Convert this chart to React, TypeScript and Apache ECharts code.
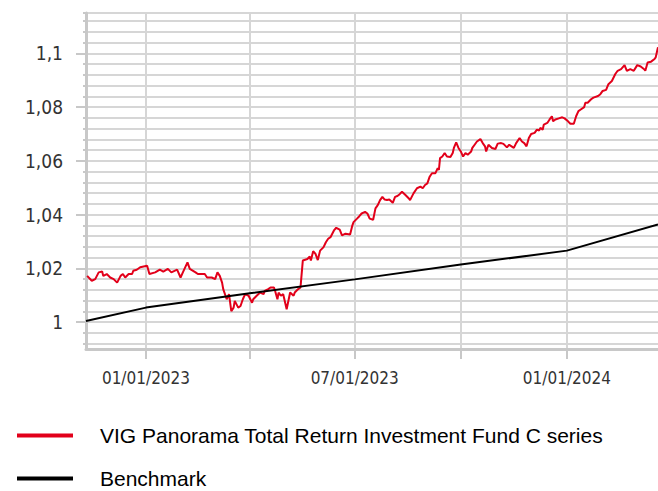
import React, { useEffect, useRef } from "react";
import * as echarts from "echarts";

// Fund series (VIG Panorama Total Return Investment Fund C series)
const fundDates = [
  "2022-11-11", "2022-11-15", "2022-11-18", "2022-11-21", "2022-11-24", "2022-11-25", "2022-11-28",
  "2022-12-01", "2022-12-04", "2022-12-07", "2022-12-10", "2022-12-12", "2022-12-14", "2022-12-17",
  "2022-12-20", "2022-12-21", "2022-12-24", "2022-12-27", "2022-12-30", "2023-01-02", "2023-01-04",
  "2023-01-09", "2023-01-13", "2023-01-16", "2023-01-20", "2023-01-23", "2023-01-28", "2023-01-31",
  "2023-02-02", "2023-02-06", "2023-02-08", "2023-02-13", "2023-02-15", "2023-02-17", "2023-02-21",
  "2023-02-23", "2023-02-27", "2023-03-02", "2023-03-04", "2023-03-06", "2023-03-08", "2023-03-09",
  "2023-03-12", "2023-03-14", "2023-03-16", "2023-03-18", "2023-03-19", "2023-03-22", "2023-03-24",
  "2023-03-26", "2023-03-28", "2023-03-31", "2023-04-03", "2023-04-04", "2023-04-07", "2023-04-10",
  "2023-04-13", "2023-04-14", "2023-04-17", "2023-04-19", "2023-04-22", "2023-04-23", "2023-04-25",
  "2023-04-26", "2023-04-28", "2023-04-30", "2023-05-03", "2023-05-06", "2023-05-09", "2023-05-10",
  "2023-05-13", "2023-05-15", "2023-05-17", "2023-05-21", "2023-05-23", "2023-05-24", "2023-05-26",
  "2023-05-28", "2023-05-30", "2023-06-01", "2023-06-04", "2023-06-06", "2023-06-08", "2023-06-10",
  "2023-06-13", "2023-06-15", "2023-06-18", "2023-06-20", "2023-06-23", "2023-06-27", "2023-06-29",
  "2023-06-30", "2023-07-03", "2023-07-05", "2023-07-07", "2023-07-10", "2023-07-12", "2023-07-14",
  "2023-07-17", "2023-07-19", "2023-07-21", "2023-07-23", "2023-07-25", "2023-07-27", "2023-07-29",
  "2023-07-31", "2023-08-03", "2023-08-05", "2023-08-07", "2023-08-09", "2023-08-11", "2023-08-14",
  "2023-08-17", "2023-08-18", "2023-08-21", "2023-08-24", "2023-08-27", "2023-08-29", "2023-08-31",
  "2023-09-02", "2023-09-04", "2023-09-06", "2023-09-09", "2023-09-11", "2023-09-12", "2023-09-13",
  "2023-09-15", "2023-09-17", "2023-09-19", "2023-09-22", "2023-09-24", "2023-09-25", "2023-09-27",
  "2023-09-29", "2023-10-01", "2023-10-03", "2023-10-05", "2023-10-07", "2023-10-10", "2023-10-11",
  "2023-10-13", "2023-10-15", "2023-10-18", "2023-10-20", "2023-10-22", "2023-10-23", "2023-10-25",
  "2023-10-28", "2023-10-31", "2023-11-02", "2023-11-05", "2023-11-07", "2023-11-10", "2023-11-12",
  "2023-11-14", "2023-11-16", "2023-11-18", "2023-11-21", "2023-11-23", "2023-11-25", "2023-11-27",
  "2023-11-29", "2023-12-01", "2023-12-04", "2023-12-06", "2023-12-08", "2023-12-09", "2023-12-11",
  "2023-12-12", "2023-12-15", "2023-12-17", "2023-12-19", "2023-12-20", "2023-12-22", "2023-12-25",
  "2023-12-28", "2023-12-30", "2024-01-02", "2024-01-04", "2024-01-07", "2024-01-09", "2024-01-11",
  "2024-01-13", "2024-01-16", "2024-01-17", "2024-01-19", "2024-01-22", "2024-01-24", "2024-01-28",
  "2024-01-30", "2024-02-01", "2024-02-04", "2024-02-06", "2024-02-09", "2024-02-12", "2024-02-14",
  "2024-02-17", "2024-02-20", "2024-02-22", "2024-02-25", "2024-02-28", "2024-03-02", "2024-03-05",
  "2024-03-08", "2024-03-09", "2024-03-11", "2024-03-14", "2024-03-17", "2024-03-18", "2024-03-19",
  "2024-03-20",
];
const fundValues = [
  1.0172, 1.0154, 1.016, 1.0185, 1.0188, 1.0172, 1.0179,
  1.0166, 1.016, 1.0147, 1.0172, 1.0179, 1.0166, 1.0179,
  1.0179, 1.0191, 1.0195, 1.0204, 1.0207, 1.021, 1.0179,
  1.0185, 1.0195, 1.0188, 1.0198, 1.0185, 1.0195, 1.0166,
  1.0185, 1.0222, 1.0198, 1.0185, 1.0179, 1.0179, 1.0179,
  1.0166, 1.0166, 1.016, 1.0185, 1.0172, 1.0147, 1.0123,
  1.0085, 1.0104, 1.0041, 1.0054, 1.0079, 1.0054, 1.006,
  1.0085, 1.0104, 1.0098, 1.0072, 1.0085, 1.0098, 1.011,
  1.0104, 1.0116, 1.0123, 1.0129, 1.0129, 1.0116, 1.0085,
  1.011, 1.0098, 1.0104, 1.0048, 1.011, 1.0098, 1.011,
  1.0123, 1.0129, 1.0229, 1.0235, 1.0244, 1.0229, 1.0264,
  1.0254, 1.0231, 1.0266, 1.0279, 1.0297, 1.031, 1.0316,
  1.0341, 1.0351, 1.0344, 1.0323, 1.0329, 1.0326, 1.036,
  1.0372, 1.0385, 1.0394, 1.0404, 1.041, 1.0404, 1.0385,
  1.0381, 1.0423, 1.0435, 1.0454, 1.0466, 1.0456, 1.0454,
  1.0456, 1.0444, 1.0466, 1.0469, 1.0476, 1.0485, 1.0473,
  1.046, 1.0454, 1.0479, 1.0498, 1.0504, 1.0498, 1.051,
  1.0516, 1.0541, 1.0554, 1.0554, 1.0573, 1.0566, 1.061,
  1.0616, 1.0629, 1.0616, 1.0614, 1.0629, 1.0648, 1.0669,
  1.0648, 1.0635, 1.0616, 1.0629, 1.0623, 1.0635, 1.0648,
  1.066, 1.0672, 1.0681, 1.0666, 1.0654, 1.0635, 1.066,
  1.0648, 1.0644, 1.0664, 1.0666, 1.0663, 1.065, 1.066,
  1.0654, 1.0648, 1.0666, 1.0685, 1.0672, 1.0666, 1.0654,
  1.0685, 1.07, 1.0704, 1.0716, 1.0713, 1.0723, 1.0716,
  1.0735, 1.0741, 1.0754, 1.0766, 1.0747, 1.0754, 1.0758,
  1.0762, 1.0758, 1.0747, 1.0738, 1.0738, 1.0766, 1.0785,
  1.0791, 1.08, 1.0816, 1.0816, 1.0829, 1.0835, 1.0841,
  1.0848, 1.086, 1.0864, 1.0885, 1.0897, 1.0923, 1.0935,
  1.0941, 1.0956, 1.0935, 1.0941, 1.0935, 1.0956, 1.0951,
  1.0941, 1.0935, 1.0966, 1.0969, 1.0979, 1.0985, 1.1004,
  1.1023,
];

// Benchmark series
const benchDates = [
  "2022-11-10", "2023-01-01", "2023-04-01", "2023-07-01", "2023-10-01", "2024-01-01", "2024-03-20",
];
const benchValues = [1.0004, 1.0054, 1.0107, 1.0159, 1.0214, 1.0266, 1.0363];

// Axis settings
const xStart = "2022-11-10";
const xEnd = "2024-03-20";
const xTickDates = ["2023-01-01", "2023-04-01", "2023-07-01", "2023-10-01", "2024-01-01"];
const xLabelDates = ["2023-01-01", "2023-07-01", "2024-01-01"];
const yMin = 0.99;
const yMax = 1.115;
const yMajorTicks = [1, 1.02, 1.04, 1.06, 1.08, 1.1];
const yMinorStep = 0.004;

const seriesNames = ["VIG Panorama Total Return Investment Fund C series", "Benchmark"];

function toTime(s: string): number {
  const [y, m, d] = s.split("-").map(Number);
  return Date.UTC(y, m - 1, d);
}
function pad(n: number): string {
  return n < 10 ? "0" + n : String(n);
}

export default function App() {
  const ref = useRef<HTMLDivElement>(null);
  useEffect(() => {
    if (!ref.current) return;
    const chart = echarts.init(ref.current, undefined, { renderer: "svg" });

    const minorTicks: number[] = [];
    for (let k = Math.ceil(yMin / yMinorStep); k * yMinorStep <= yMax + 1e-9; k++) {
      minorTicks.push(Math.round(k * yMinorStep * 1000) / 1000);
    }
    minorTicks.push(yMax);

    const gridColor = "#d6d6d6";
    const axisColor = "#c8c8c8";
    const labelFont = "'DejaVu Sans Condensed', 'DejaVu Sans', Verdana, sans-serif";

    chart.setOption({
      animation: false,
      backgroundColor: "#ffffff",
      grid: { left: 86, top: 13, right: 0, bottom: 142, containLabel: false },
      legend: {
        orient: "vertical",
        left: 17,
        top: 425,
        padding: 0,
        height: 120,
        itemWidth: 56,
        itemHeight: 4,
        itemGap: 22,
        icon: "rect",
        data: seriesNames,
        textStyle: {
          fontFamily: "'Liberation Sans', Arial, sans-serif",
          fontSize: 21,
          lineHeight: 20,
          color: "#000000",
          padding: [0, 0, 0, 22],
        },
      },
      xAxis: {
        type: "value",
        min: toTime(xStart),
        max: toTime(xEnd),
        axisLine: { show: true, onZero: false, lineStyle: { color: axisColor, width: 3 } },
        axisTick: {
          show: true,
          length: 10,
          customValues: xTickDates.map(toTime),
          lineStyle: { color: axisColor, width: 2 },
        },
        axisLabel: {
          show: true,
          customValues: xLabelDates.map(toTime),
          margin: 20,
          fontFamily: labelFont,
          fontSize: 17,
          color: "#333333",
          formatter: (v: number) => {
            const d = new Date(v);
            return pad(d.getUTCMonth() + 1) + "/" + pad(d.getUTCDate()) + "/" + d.getUTCFullYear();
          },
        },
        splitLine: { show: true, lineStyle: { color: gridColor, width: 2 } },
      },
      yAxis: [
        {
          type: "value",
          min: yMin,
          max: yMax,
          position: "left",
          axisLine: { show: true, lineStyle: { color: axisColor, width: 3 } },
          axisTick: {
            show: true,
            length: 3,
            customValues: minorTicks,
            lineStyle: { color: axisColor, width: 2 },
          },
          axisLabel: { show: false },
          splitLine: { show: true, lineStyle: { color: gridColor, width: 2 } },
        },
        {
          type: "value",
          min: yMin,
          max: yMax,
          position: "left",
          offset: 0,
          axisLine: { show: false },
          axisTick: {
            show: true,
            length: 10,
            customValues: yMajorTicks,
            lineStyle: { color: axisColor, width: 2 },
          },
          axisLabel: {
            show: true,
            customValues: yMajorTicks,
            margin: 23,
            fontFamily: labelFont,
            fontSize: 19,
            color: "#333333",
            formatter: (v: number) => String(v).replace(".", ","),
          },
          splitLine: { show: false },
        },
      ],
      series: [
        {
          name: seriesNames[0],
          type: "line",
          yAxisIndex: 0,
          showSymbol: false,
          symbol: "none",
          lineStyle: { color: "#e2001a", width: 2 },
          itemStyle: { color: "#e2001a" },
          data: fundDates.map((d, i) => [toTime(d), fundValues[i]]),
        },
        {
          name: seriesNames[1],
          type: "line",
          yAxisIndex: 0,
          showSymbol: false,
          symbol: "none",
          lineStyle: { color: "#000000", width: 2 },
          itemStyle: { color: "#000000" },
          data: benchDates.map((d, i) => [toTime(d), benchValues[i]]),
        },
      ],
    });
    return () => chart.dispose();
  }, []);
  return (
    <div
      ref={ref}
      style={{ position: "fixed", left: 0, top: 0, width: 658, height: 491, background: "#fff" }}
    />
  );
}
